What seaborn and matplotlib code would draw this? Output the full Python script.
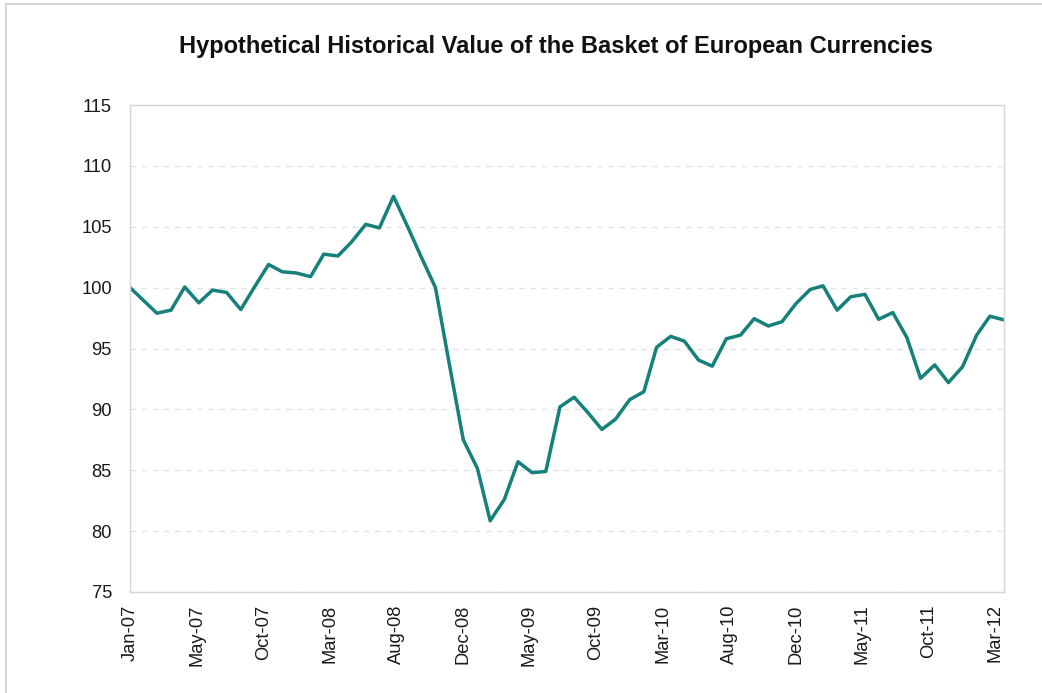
import numpy as np
import pandas as pd
import matplotlib
matplotlib.use("Agg")
import matplotlib.pyplot as plt
import seaborn as sns
from matplotlib.lines import Line2D

# Monthly basket value, Jan-07 .. Apr-12
months = pd.date_range("2007-01-01", "2012-04-01", freq="MS")
values = [
    100.0, 98.9, 97.9, 98.15, 100.05, 98.75, 99.8, 99.6, 98.2, 100.05, 101.9, 101.3,   # 2007
    101.2, 100.9, 102.75, 102.6, 103.75, 105.2, 104.9, 107.5, 105.0, 102.5, 100.0, 93.8,  # 2008
    87.5, 85.15, 80.85, 82.6, 85.7, 84.8, 84.9, 90.2, 91.0, 89.75, 88.35, 89.2,       # 2009
    90.8, 91.45, 95.1, 96.0, 95.6, 94.05, 93.55, 95.8, 96.1, 97.45, 96.85, 97.2,      # 2010
    98.7, 99.85, 100.15, 98.15, 99.25, 99.45, 97.4, 97.95, 95.9, 92.55, 93.65, 92.2,  # 2011
    93.5, 96.1, 97.65, 97.35,                                                         # 2012
]
tick_labels = ["Jan-07", "May-07", "Oct-07", "Mar-08", "Aug-08", "Dec-08", "May-09",
               "Oct-09", "Mar-10", "Aug-10", "Dec-10", "May-11", "Oct-11", "Mar-12"]
y_ticks = [75, 80, 85, 90, 95, 100, 105, 110, 115]

df = pd.DataFrame({"Month": months, "Value": values})

sns.set_style("white")
plt.rcParams["font.family"] = ["Liberation Sans", "DejaVu Sans"]

fig = plt.figure(figsize=(10.42, 6.93), dpi=100)
ax = fig.add_axes([130 / 1042, 1 - 592 / 693, 874 / 1042, 487 / 693])

sns.lineplot(data=df, x="Month", y="Value", ax=ax, color="#16807b", linewidth=2.5)

# axis is evenly spaced in days (Excel date axis, 146-day major unit)
tick_dates = months[0] + pd.to_timedelta(np.arange(len(tick_labels)) * 146, unit="D")
ax.set_xticks(tick_dates, labels=tick_labels, rotation=90)
ax.set_xlim(months[0], months[-1])
ax.set_ylim(75, 115)
ax.set_yticks(y_ticks)
ax.set_xlabel("")
ax.set_ylabel("")

ax.tick_params(axis="both", labelsize=13.2, colors="#1a1a1a", length=5, width=1,
               color="#d0d0d0", pad=4)
ax.tick_params(axis="y", pad=8)
for s in ax.spines.values():
    s.set_color("#d6d6d6")
    s.set_linewidth(1)

ax.yaxis.grid(True, linestyle=(0, (4, 4)), color="#e2e2e2", linewidth=1)
ax.set_axisbelow(True)

fig.text(0.534, 1 - 47 / 693, "Hypothetical Historical Value of the Basket of European Currencies",
         ha="center", va="center", fontsize=17, fontweight="bold", color="#111111")

# faint frame at top and left of the picture
fig.add_artist(Line2D([6 / 1042, 1], [1 - 4 / 693, 1 - 4 / 693], transform=fig.transFigure,
                      color="#cccccc", linewidth=1.2))
fig.add_artist(Line2D([6 / 1042, 6 / 1042], [0, 1 - 4 / 693], transform=fig.transFigure,
                      color="#cccccc", linewidth=1.2))

fig.savefig("out.png", dpi=100)
